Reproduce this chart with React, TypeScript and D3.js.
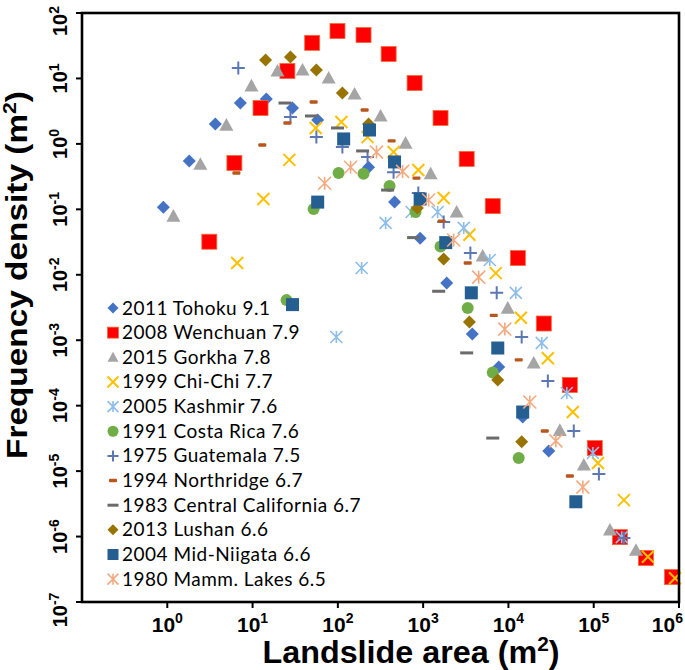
import React from 'react';
import * as d3 from 'd3';

// ---------- data (landslide area m², frequency density m^-2) ----------
const tohokuX = [0.9, 1.81, 3.66, 7.2, 14.5, 29.4, 58, 229, 462, 922, 1890, 3770, 7700, 14700, 29700];
const tohokuY = [0.108, 0.55, 2.01, 4.21, 4.85, 3.53, 2.32, 0.44, 0.129, 0.036, 0.0075, 0.00124, 0.00039, 6.7e-5, 2.03e-5];

const wenchuanX = [3.11, 6.12, 12.4, 25.6, 50, 99, 200, 394, 794, 1600, 3240, 6550, 12900, 26000, 52500, 103000, 203000, 409000, 828000];
const wenchuanY = [0.032, 0.51, 3.53, 13.0, 35, 53, 46, 23.6, 8.5, 2.49, 0.59, 0.112, 0.018, 0.0018, 0.000207, 2.25e-5, 9.8e-7, 4.7e-7, 2.4e-7];

const gorkhaX = [1.18, 2.44, 4.93, 9.7, 19.6, 38.5, 78, 157, 317, 622, 1225, 2470, 4990, 9820, 19800, 40100, 76600, 155000, 313000];
const gorkhaY = [0.079, 0.49, 1.94, 7.7, 13.0, 13.5, 10.2, 5.8, 2.67, 1.03, 0.35, 0.091, 0.0194, 0.0031, 0.00045, 4.2e-5, 1.24e-5, 1.26e-6, 6.2e-7];

const chichiX = [6.6, 13.4, 27, 55, 110, 223, 450, 878, 1740, 3490, 7100, 14000, 29000, 56900, 112000, 226000, 432000, 897000];
const chichiY = [0.0151, 0.144, 0.57, 1.75, 2.16, 1.27, 0.75, 0.4, 0.149, 0.041, 0.0106, 0.0022, 0.00053, 8.0e-5, 1.33e-5, 3.6e-6, 4.9e-7, 2.3e-7];

const kashmirX = [96, 190, 363, 732, 1480, 2990, 6040, 12200, 24600, 48400, 97800, 213000];
const kashmirY = [0.00112, 0.0127, 0.062, 0.091, 0.091, 0.052, 0.0168, 0.0053, 0.00091, 0.000156, 1.89e-5, 9.8e-7];

const costaRicaX = [25, 52, 102, 200, 404, 814, 1600, 3330, 6550, 13200];
const costaRicaY = [0.0041, 0.101, 0.36, 0.35, 0.227, 0.091, 0.027, 0.0031, 0.00032, 1.58e-5];

const guatemalaX = [6.8, 27.8, 56, 113, 223, 450, 878, 1740, 3580, 7290, 14300, 29000, 58400, 115000, 226000];
const guatemalaY = [14.5, 2.57, 1.27, 0.9, 0.63, 0.37, 0.177, 0.064, 0.0215, 0.0053, 0.00112, 0.000238, 4.1e-5, 9.0e-6, 9.5e-7];

const northridgeX = [6.46, 13.0, 25.6, 52, 206, 427, 835, 1650, 3330, 6730, 13200, 26700, 52500];
const northridgeY = [0.36, 0.96, 2.08, 4.37, 3.3, 1.11, 0.3, 0.066, 0.0151, 0.0024, 0.0005, 4.1e-5, 8.4e-6];

const centralCalX = [24, 49, 99, 195, 383, 773, 1520, 3240, 6550];
const centralCalY = [4.21, 2.67, 1.75, 0.78, 0.197, 0.037, 0.0056, 0.00064, 3.2e-5];

const lushanX = [14.2, 27.8, 56, 113, 229, 856, 1740, 3490, 7500, 14300];
const lushanY = [19.1, 21.3, 13.5, 6.0, 2.01, 0.105, 0.0174, 0.0019, 0.000247, 2.8e-5];

const midNiigataX = [29.4, 58, 117, 235, 462, 922, 1840, 3670, 7500, 14700, 61700];
const midNiigataY = [0.0035, 0.129, 1.19, 1.63, 0.53, 0.144, 0.031, 0.0053, 0.00076, 8.0e-5, 3.4e-6];

const mammothX = [70, 141, 284, 574, 1160, 2280, 4480, 9060, 17800, 36000, 74600];
const mammothY = [0.25, 0.44, 0.75, 0.38, 0.139, 0.034, 0.0092, 0.00148, 0.000114, 2.9e-5, 5.7e-6];

const seriesNames = [
  '2011 Tohoku 9.1',
  '2008 Wenchuan 7.9',
  '2015 Gorkha 7.8',
  '1999 Chi-Chi 7.7',
  '2005 Kashmir 7.6',
  '1991 Costa Rica 7.6',
  '1975 Guatemala 7.5',
  '1994 Northridge 6.7',
  '1983 Central California 6.7',
  '2013 Lushan 6.6',
  '2004 Mid-Niigata 6.6',
  '1980 Mamm. Lakes 6.5',
];

const xTickExps = [0, 1, 2, 3, 4, 5, 6];
const yTickExps = [2, 1, 0, -1, -2, -3, -4, -5, -6, -7];

// ---------- styling ----------
type Kind = 'diamond' | 'square' | 'triangle' | 'x' | 'asterisk' | 'circle' | 'plus' | 'dash' | 'longdash';
const styles: { kind: Kind; color: string; size: number; stroke?: string }[] = [
  { kind: 'diamond', color: '#4472C4', size: 13 },
  { kind: 'square', color: '#FF0000', size: 15, stroke: '#F26B3A' },
  { kind: 'triangle', color: '#A5A5A5', size: 14 },
  { kind: 'x', color: '#FFC000', size: 12 },
  { kind: 'asterisk', color: '#8DBDEB', size: 12 },
  { kind: 'circle', color: '#70AD47', size: 12 },
  { kind: 'plus', color: '#5B78B3', size: 13 },
  { kind: 'dash', color: '#B8561C', size: 8 },
  { kind: 'longdash', color: '#6B6B6B', size: 13 },
  { kind: 'diamond', color: '#997300', size: 13 },
  { kind: 'square', color: '#255E91', size: 13 },
  { kind: 'asterisk', color: '#F4AA80', size: 13 },
];

const seriesX = [tohokuX, wenchuanX, gorkhaX, chichiX, kashmirX, costaRicaX, guatemalaX, northridgeX, centralCalX, lushanX, midNiigataX, mammothX];
const seriesY = [tohokuY, wenchuanY, gorkhaY, chichiY, kashmirY, costaRicaY, guatemalaY, northridgeY, centralCalY, lushanY, midNiigataY, mammothY];

const W = 685;
const H = 670;
const left = 82;
const right = 679;
const top = 13;
const bottom = 602;

function Marker({ kind, cx, cy, size, color, stroke }: { kind: Kind; cx: number; cy: number; size: number; color: string; stroke?: string }) {
  const h = size / 2;
  switch (kind) {
    case 'diamond':
      return <polygon points={`${cx},${cy - h} ${cx + h},${cy} ${cx},${cy + h} ${cx - h},${cy}`} fill={color} />;
    case 'square':
      return <rect x={cx - h} y={cy - h} width={size} height={size} fill={color} stroke={stroke || 'none'} strokeWidth={stroke ? 0.8 : 0} />;
    case 'triangle':
      return <polygon points={`${cx},${cy - h} ${cx + h},${cy + h * 0.8} ${cx - h},${cy + h * 0.8}`} fill={color} />;
    case 'circle':
      return <circle cx={cx} cy={cy} r={h} fill={color} />;
    case 'x':
      return (
        <path d={`M${cx - h},${cy - h}L${cx + h},${cy + h}M${cx - h},${cy + h}L${cx + h},${cy - h}`} stroke={color} strokeWidth={2} fill="none" />
      );
    case 'asterisk':
      return (
        <path
          d={`M${cx - h},${cy - h}L${cx + h},${cy + h}M${cx - h},${cy + h}L${cx + h},${cy - h}M${cx},${cy - h}L${cx},${cy + h}`}
          stroke={color}
          strokeWidth={1.6}
          fill="none"
        />
      );
    case 'plus':
      return <path d={`M${cx - h},${cy}L${cx + h},${cy}M${cx},${cy - h}L${cx},${cy + h}`} stroke={color} strokeWidth={2} fill="none" />;
    case 'dash':
      return <rect x={cx - h} y={cy - 1.7} width={size} height={3.4} rx={1} fill={color} />;
    case 'longdash':
      return <rect x={cx - h} y={cy - 1.5} width={size} height={3} fill={color} />;
  }
  return null;
}

export default function App() {
  const x = d3.scaleLog().domain([0.1, 1e6]).range([left, right]);
  const y = d3.scaleLog().domain([1e-7, 1e2]).range([bottom, top]);

  const tickFont = "'Liberation Sans', Arial, sans-serif";
  const legendTop = 308;
  const legendStep = 24.65;
  const lastX = xTickExps[xTickExps.length - 1];
  const firstY = yTickExps[0];
  const lastY = yTickExps[yTickExps.length - 1];

  return (
    <svg width={W} height={H} style={{ position: 'absolute', left: 0, top: 0, background: '#fff' }}>
      <rect x={0} y={0} width={W} height={H} fill="#fff" />
      {/* data */}
      {seriesX.map((xs, si) => (
        <g key={si}>
          {xs.map((xv, i) => (
            <Marker
              key={i}
              kind={styles[si].kind}
              cx={x(xv)}
              cy={y(seriesY[si][i])}
              size={styles[si].size}
              color={styles[si].color}
              stroke={styles[si].stroke}
            />
          ))}
        </g>
      ))}

      {/* frame */}
      <rect x={left} y={top} width={right - left} height={bottom - top} fill="none" stroke="#000" strokeWidth={2.6} />

      {/* x ticks */}
      {xTickExps.map((e) => {
        const xx = x(Math.pow(10, e));
        const isLast = e === lastX;
        return (
          <g key={e}>
            <line x1={xx} x2={xx} y1={bottom} y2={bottom + 6} stroke="#000" strokeWidth={2} />
            <text
              x={isLast ? 683 : xx}
              y={632}
              textAnchor={isLast ? 'end' : 'middle'}
              fontFamily={tickFont}
              fontWeight="bold"
              fontSize={21}
              fill="#000"
            >
              10
              <tspan dy={-9} fontSize={14}>
                {e}
              </tspan>
            </text>
          </g>
        );
      })}

      {/* y ticks */}
      {yTickExps.map((e) => {
        const yy = y(Math.pow(10, e));
        const ly = e === firstY ? yy + 8 : e === lastY ? yy + 8 : yy;
        return (
          <g key={e}>
            <line x1={left - 6} x2={left} y1={yy} y2={yy} stroke="#000" strokeWidth={2} />
            <text transform={`translate(67,${ly}) rotate(-90)`} textAnchor="middle" fontFamily={tickFont} fontWeight="bold" fontSize={20} fill="#000">
              10
              <tspan dy={-8} fontSize={14}>
                {e < 0 ? '-' + Math.abs(e) : e}
              </tspan>
            </text>
          </g>
        );
      })}

      {/* axis titles */}
      <text x={411} y={663} textAnchor="middle" fontFamily={tickFont} fontWeight="bold" fontSize={31} fill="#000" textLength={297} lengthAdjust="spacingAndGlyphs">
        Landslide area (m
        <tspan dy={-12} fontSize={20}>
          2
        </tspan>
        <tspan dy={12}>)</tspan>
      </text>
      <text
        transform="translate(27,275) rotate(-90)"
        textAnchor="middle"
        fontFamily={tickFont}
        fontWeight="bold"
        fontSize={30}
        fill="#000"
        textLength={368}
        lengthAdjust="spacingAndGlyphs"
      >
        Frequency density (m
        <tspan dy={-11} fontSize={19}>
          2
        </tspan>
        <tspan dy={11}>)</tspan>
      </text>

      {/* legend */}
      {seriesNames.map((name, i) => {
        const cy = legendTop + i * legendStep;
        const st = styles[i];
        return (
          <g key={name}>
            <Marker kind={st.kind} cx={113} cy={cy} size={Math.min(st.size, 11)} color={st.color} stroke={st.stroke} />
            <text x={122} y={cy + 6.5} fontFamily="Lato, 'Open Sans', sans-serif" fontSize={19} letterSpacing={0.5} fill="#000">
              {name}
            </text>
          </g>
        );
      })}
    </svg>
  );
}
